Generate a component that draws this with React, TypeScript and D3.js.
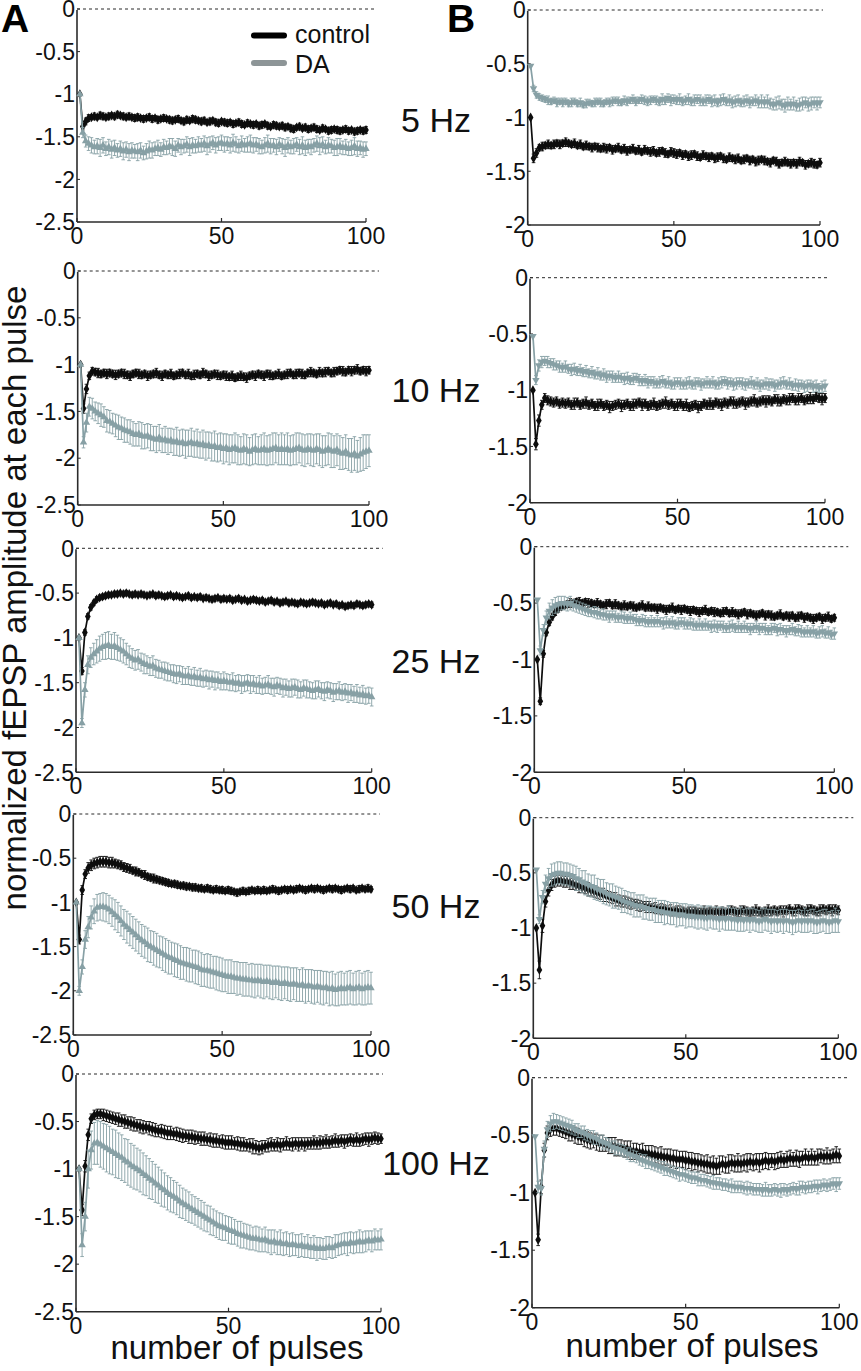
import { useEffect } from 'react';
import * as d3 from 'd3';

// pulse index (x) for every series
const pulseNumbers = d3.range(1, 101);
const xTicks = [0, 50, 100];
const yTicksA = [0, -0.5, -1, -1.5, -2, -2.5];
const yTicksB = [0, -0.5, -1, -1.5, -2];
const frequencyLabels = ['5 Hz', '10 Hz', '25 Hz', '50 Hz', '100 Hz'];

// all amplitudes / SEMs below are in hundredths of the normalized amplitude
// ---- column A, 5 Hz
const ctrlA5 = [
  -100, -138, -132, -128, -127, -126, -127, -125, -126, -127,
  -126, -125, -126, -124, -125, -126, -127, -126, -127, -128,
  -127, -128, -129, -128, -127, -129, -128, -130, -129, -128,
  -129, -130, -131, -130, -129, -131, -132, -130, -131, -129,
  -130, -131, -132, -131, -133, -132, -131, -133, -134, -132,
  -133, -134, -133, -135, -134, -133, -135, -136, -134, -135,
  -136, -135, -137, -136, -135, -137, -138, -136, -137, -138,
  -137, -139, -138, -140, -141, -139, -138, -140, -139, -141,
  -140, -139, -141, -142, -140, -141, -143, -142, -141, -142,
  -143, -142, -141, -143, -142, -144, -143, -142, -143, -142,
];
const ctrlErrA5 = [
  0, 4, 4, 4, 3, 4, 3, 4, 4, 3, 4, 3, 4, 4, 3, 4, 3, 4, 3, 4,
  4, 3, 4, 3, 4, 4, 3, 4, 3, 4, 3, 4, 4, 3, 4, 3, 4, 4, 3, 4,
  4, 3, 4, 4, 3, 4, 3, 4, 4, 3, 4, 4, 3, 4, 3, 4, 4, 3, 4, 3,
  4, 3, 4, 4, 3, 4, 3, 4, 4, 3, 4, 4, 3, 4, 4, 3, 4, 3, 4, 4,
  3, 4, 4, 3, 4, 3, 4, 4, 3, 4, 4, 3, 4, 4, 3, 4, 4, 3, 4, 4,
];
const daA5 = [
  -100, -145, -155, -158, -160, -162, -161, -163, -160, -164,
  -162, -165, -163, -166, -164, -167, -165, -168, -166, -167,
  -168, -166, -169, -167, -165, -166, -164, -163, -165, -162,
  -163, -161, -162, -164, -160, -162, -161, -159, -162, -160,
  -161, -159, -160, -158, -161, -159, -157, -160, -158, -157,
  -159, -158, -160, -157, -159, -161, -158, -160, -159, -158,
  -160, -159, -161, -162, -160, -158, -161, -160, -162, -159,
  -161, -163, -160, -162, -161, -159, -162, -160, -163, -161,
  -162, -160, -158, -161, -159, -162, -160, -161, -163, -162,
  -161, -163, -162, -164, -163, -161, -164, -163, -165, -164,
];
const daErrA5 = [
  0, 6, 7, 8, 9, 8, 9, 10, 9, 8, 9, 10, 9, 8, 9, 10, 9, 10, 9, 8,
  10, 9, 8, 9, 10, 9, 8, 9, 8, 9, 8, 9, 10, 9, 8, 9, 8, 9, 10, 9,
  8, 9, 8, 9, 10, 9, 8, 9, 8, 9, 9, 8, 9, 10, 9, 8, 9, 8, 9, 10,
  9, 8, 9, 8, 9, 10, 9, 8, 9, 8, 9, 10, 9, 8, 9, 8, 9, 10, 9, 8,
  9, 8, 9, 10, 9, 8, 9, 8, 9, 10, 9, 8, 9, 8, 9, 10, 9, 8, 9, 8,
];

// ---- column B, 5 Hz
const ctrlB5 = [
  -100, -138, -133, -128, -127, -126, -125, -126, -125, -124,
  -125, -124, -123, -124, -125, -124, -126, -125, -127, -126,
  -127, -128, -127, -128, -129, -128, -129, -128, -130, -129,
  -128, -130, -129, -131, -130, -129, -131, -130, -132, -130,
  -131, -132, -131, -133, -132, -131, -133, -134, -132, -133,
  -134, -133, -135, -134, -136, -135, -134, -136, -137, -135,
  -136, -137, -136, -138, -137, -136, -138, -139, -137, -138,
  -139, -138, -140, -139, -138, -140, -139, -141, -140, -139,
  -140, -141, -142, -140, -141, -143, -142, -141, -142, -143,
  -142, -143, -141, -142, -144, -143, -142, -143, -144, -142,
];
const ctrlErrB5 = [
  0, 4, 4, 3, 4, 3, 4, 3, 4, 3, 4, 3, 4, 3, 3, 4, 3, 4, 3, 4,
  3, 4, 3, 4, 3, 4, 4, 3, 4, 3, 4, 3, 4, 4, 3, 4, 3, 4, 3, 4,
  3, 4, 4, 3, 4, 3, 4, 3, 4, 4, 4, 3, 4, 3, 4, 4, 3, 4, 3, 4,
  3, 4, 3, 4, 4, 3, 4, 3, 4, 3, 4, 4, 3, 4, 3, 4, 3, 4, 4, 3,
  4, 3, 4, 3, 4, 4, 3, 4, 3, 4, 3, 4, 4, 3, 4, 3, 4, 4, 3, 4,
];
const daB5 = [
  -52, -73, -79, -81, -82, -83, -84, -85, -84, -86,
  -85, -86, -85, -87, -86, -85, -87, -86, -88, -87,
  -86, -87, -86, -85, -86, -87, -85, -86, -85, -84,
  -85, -86, -84, -85, -84, -83, -85, -84, -83, -84,
  -85, -84, -83, -84, -85, -83, -84, -82, -84, -83,
  -84, -83, -85, -84, -83, -85, -84, -83, -84, -85,
  -84, -83, -85, -84, -86, -84, -83, -85, -84, -86,
  -85, -84, -86, -85, -84, -86, -85, -84, -86, -85,
  -86, -85, -87, -88, -87, -86, -88, -89, -87, -88,
  -87, -89, -88, -87, -86, -88, -87, -86, -87, -86,
];
const daErrB5 = [
  0, 3, 3, 3, 3, 3, 4, 3, 3, 4, 3, 4, 3, 3, 4, 3, 3, 4, 3, 4,
  3, 3, 4, 3, 4, 3, 3, 4, 4, 3, 4, 3, 4, 4, 3, 4, 4, 3, 4, 4,
  4, 4, 3, 4, 4, 5, 4, 4, 5, 4, 4, 5, 4, 4, 5, 4, 5, 4, 5, 4,
  5, 4, 5, 5, 4, 5, 5, 4, 5, 5, 5, 5, 4, 5, 5, 5, 4, 5, 5, 6,
  5, 6, 5, 5, 6, 6, 5, 6, 6, 5, 6, 5, 6, 6, 5, 6, 6, 5, 6, 5,
];

// ---- column A, 10 Hz
const ctrlA10 = [
  -100, -147, -126, -112, -107, -108, -109, -110, -109, -110,
  -109, -110, -111, -110, -109, -110, -111, -112, -110, -109,
  -110, -111, -110, -112, -111, -110, -109, -111, -112, -110,
  -111, -110, -112, -111, -110, -109, -111, -110, -112, -111,
  -110, -111, -109, -110, -112, -111, -110, -111, -112, -111,
  -112, -113, -112, -114, -113, -112, -113, -114, -112, -111,
  -112, -110, -111, -112, -110, -111, -112, -111, -110, -112,
  -111, -110, -109, -111, -110, -109, -110, -111, -109, -108,
  -109, -110, -108, -109, -108, -107, -109, -108, -107, -106,
  -107, -108, -106, -107, -106, -105, -107, -106, -107, -106,
];
const ctrlErrA10 = [
  0, 5, 5, 4, 4, 4, 5, 4, 4, 5, 4, 4, 5, 4, 4, 5, 4, 5, 4, 4,
  5, 4, 4, 5, 4, 4, 5, 4, 5, 4, 4, 5, 4, 4, 5, 4, 4, 5, 4, 5,
  4, 4, 5, 4, 5, 4, 4, 5, 4, 4, 5, 4, 5, 4, 4, 5, 4, 5, 4, 4,
  5, 4, 4, 5, 4, 5, 4, 4, 5, 4, 4, 5, 4, 4, 5, 4, 5, 4, 4, 5,
  4, 4, 5, 4, 5, 4, 4, 5, 4, 4, 5, 4, 4, 5, 4, 5, 4, 4, 5, 4,
];
const daA10 = [
  -100, -183, -162, -145, -147, -150, -152, -154, -156, -160,
  -161, -163, -165, -167, -168, -170, -171, -172, -174, -175,
  -174, -176, -177, -176, -178, -179, -180, -178, -181, -180,
  -182, -181, -183, -182, -184, -183, -185, -184, -183, -185,
  -184, -186, -185, -187, -186, -188, -187, -189, -188, -190,
  -189, -191, -190, -189, -191, -192, -190, -191, -193, -191,
  -190, -192, -191, -190, -192, -191, -190, -189, -191, -190,
  -191, -190, -192, -191, -190, -189, -191, -192, -190, -191,
  -192, -190, -191, -193, -192, -190, -192, -193, -191, -194,
  -195, -193, -196, -197, -195, -198, -196, -194, -193, -192,
];
const daErrA10 = [
  0, 6, 10, 10, 11, 10, 11, 12, 11, 12, 12, 11, 12, 13, 12, 13, 12, 13, 13, 12,
  13, 14, 13, 13, 14, 13, 14, 14, 13, 14, 14, 13, 14, 15, 14, 14, 15, 14, 15, 14,
  15, 14, 15, 15, 14, 15, 16, 15, 15, 16, 15, 16, 15, 16, 16, 15, 16, 16, 15, 16,
  16, 15, 16, 17, 16, 16, 17, 16, 16, 17, 16, 17, 16, 16, 17, 16, 17, 17, 16, 17,
  17, 16, 17, 17, 16, 17, 18, 17, 17, 18, 17, 18, 17, 18, 18, 17, 18, 19, 18, 17,
];

// ---- column B, 10 Hz
const ctrlB10 = [
  -100, -148, -127, -113, -107, -109, -110, -111, -110, -112,
  -111, -112, -111, -113, -112, -111, -113, -112, -111, -113,
  -112, -114, -113, -112, -114, -113, -115, -114, -113, -112,
  -114, -113, -112, -114, -113, -112, -111, -113, -112, -114,
  -113, -112, -114, -113, -112, -111, -113, -112, -114, -113,
  -112, -114, -113, -115, -114, -113, -115, -114, -112, -113,
  -112, -113, -111, -112, -113, -111, -112, -110, -111, -112,
  -111, -110, -112, -111, -110, -109, -111, -110, -109, -110,
  -109, -110, -108, -109, -110, -108, -109, -108, -107, -109,
  -108, -107, -109, -108, -107, -108, -106, -107, -108, -107,
];
const ctrlErrB10 = [
  0, 5, 5, 4, 4, 4, 4, 4, 4, 4, 4, 4, 4, 4, 5, 4, 4, 4, 5, 4,
  4, 4, 5, 4, 4, 4, 5, 4, 4, 4, 5, 4, 4, 4, 5, 4, 4, 5, 4, 4,
  4, 5, 4, 4, 4, 5, 4, 4, 4, 5, 4, 4, 5, 4, 4, 4, 5, 4, 4, 4,
  5, 4, 4, 4, 5, 4, 4, 4, 5, 4, 4, 4, 5, 4, 4, 5, 4, 4, 4, 5,
  4, 4, 4, 5, 4, 4, 4, 5, 4, 4, 5, 4, 4, 4, 5, 4, 4, 4, 5, 4,
];
const daB10 = [
  -52, -91, -78, -75, -74, -75, -76, -77, -78, -79,
  -80, -79, -81, -82, -81, -83, -82, -84, -83, -85,
  -84, -86, -85, -87, -86, -88, -87, -88, -89, -88,
  -89, -90, -89, -91, -90, -89, -91, -92, -91, -93,
  -92, -93, -94, -93, -92, -94, -93, -95, -94, -93,
  -94, -95, -94, -93, -95, -94, -93, -95, -94, -93,
  -94, -93, -95, -94, -93, -92, -94, -93, -95, -94,
  -93, -94, -95, -94, -93, -95, -94, -96, -95, -94,
  -95, -94, -96, -95, -94, -93, -95, -94, -96, -95,
  -96, -95, -97, -96, -95, -97, -96, -98, -97, -96,
];
const daErrB10 = [
  0, 4, 5, 5, 4, 5, 4, 5, 4, 5, 4, 5, 4, 5, 5, 4, 5, 4, 5, 4,
  5, 4, 5, 4, 5, 5, 4, 5, 4, 5, 4, 5, 5, 4, 5, 4, 5, 4, 5, 5,
  4, 5, 4, 5, 5, 4, 5, 4, 5, 4, 5, 4, 5, 5, 4, 5, 4, 5, 4, 5,
  4, 5, 4, 5, 5, 4, 5, 4, 5, 5, 4, 5, 5, 4, 5, 4, 5, 5, 4, 5,
  5, 4, 5, 4, 5, 5, 4, 5, 4, 5, 5, 4, 5, 5, 4, 5, 5, 4, 5, 5,
];

// ---- column A, 25 Hz
const ctrlA25 = [
  -100, -137, -94, -76, -66, -61, -57, -55, -54, -53,
  -52, -52, -51, -51, -50, -51, -50, -51, -52, -51,
  -52, -51, -52, -53, -52, -51, -53, -52, -53, -54,
  -53, -52, -54, -53, -54, -55, -54, -53, -55, -54,
  -55, -54, -56, -55, -56, -57, -56, -55, -57, -56,
  -57, -56, -58, -57, -56, -58, -57, -59, -58, -57,
  -58, -59, -58, -60, -59, -58, -60, -59, -61, -60,
  -59, -61, -60, -61, -62, -60, -61, -62, -61, -60,
  -61, -62, -61, -63, -62, -61, -63, -62, -64, -63,
  -65, -64, -63, -64, -62, -63, -64, -63, -62, -63,
];
const ctrlErrA25 = [
  0, 4, 3, 3, 3, 3, 3, 3, 3, 3, 3, 2, 3, 3, 2, 3, 3, 2, 3, 3,
  2, 3, 3, 2, 3, 2, 3, 3, 2, 3, 3, 2, 3, 3, 2, 3, 2, 3, 3, 2,
  3, 3, 2, 3, 2, 3, 3, 2, 3, 3, 2, 3, 3, 2, 3, 3, 2, 3, 2, 3,
  3, 2, 3, 3, 2, 3, 3, 2, 3, 3, 2, 3, 2, 3, 3, 2, 3, 3, 2, 3,
  3, 2, 3, 3, 2, 3, 2, 3, 3, 2, 3, 3, 2, 3, 3, 2, 3, 3, 2, 3,
];
const daA25 = [
  -100, -195, -158, -130, -122, -118, -115, -112, -110, -109,
  -108, -110, -109, -111, -113, -115, -118, -121, -123, -125,
  -124, -127, -129, -130, -132, -131, -134, -135, -136, -137,
  -138, -139, -140, -141, -140, -142, -143, -142, -144, -143,
  -145, -144, -146, -145, -147, -146, -148, -147, -149, -148,
  -149, -150, -149, -151, -150, -152, -151, -150, -152, -151,
  -153, -152, -154, -153, -152, -154, -155, -153, -154, -156,
  -155, -157, -156, -155, -157, -158, -156, -157, -158, -159,
  -158, -157, -159, -160, -158, -159, -161, -160, -159, -161,
  -160, -162, -161, -163, -162, -164, -163, -165, -164, -166,
];
const daErrA25 = [
  0, 5, 8, 10, 11, 12, 13, 14, 14, 15, 15, 14, 15, 14, 13, 13, 12, 12, 11, 11,
  11, 10, 11, 10, 10, 11, 10, 10, 9, 10, 10, 9, 10, 10, 9, 10, 9, 10, 9, 10,
  9, 10, 9, 9, 10, 9, 10, 9, 9, 10, 9, 9, 10, 9, 9, 10, 9, 9, 10, 9,
  9, 10, 9, 9, 10, 9, 10, 9, 9, 10, 9, 9, 10, 9, 10, 9, 9, 10, 9, 9,
  10, 9, 9, 10, 9, 9, 10, 9, 10, 9, 9, 10, 9, 9, 10, 9, 10, 9, 9, 10,
];

// ---- column B, 25 Hz
const ctrlB25 = [
  -100, -137, -95, -76, -67, -62, -58, -55, -53, -52,
  -51, -50, -50, -49, -49, -50, -49, -50, -50, -51,
  -50, -51, -52, -51, -50, -52, -51, -52, -53, -52,
  -53, -52, -53, -54, -53, -52, -54, -53, -54, -54,
  -55, -54, -55, -56, -55, -54, -56, -55, -56, -55,
  -56, -57, -56, -57, -58, -57, -56, -58, -57, -58,
  -58, -59, -58, -57, -59, -58, -59, -60, -59, -58,
  -60, -59, -60, -61, -60, -59, -61, -60, -61, -62,
  -61, -60, -62, -61, -62, -61, -63, -62, -61, -63,
  -62, -63, -64, -63, -62, -64, -63, -62, -64, -63,
];
const ctrlErrB25 = [
  0, 3, 3, 3, 3, 3, 3, 3, 3, 3, 3, 4, 3, 3, 4, 3, 3, 4, 3, 3,
  4, 3, 3, 4, 3, 3, 4, 3, 3, 4, 3, 3, 4, 3, 3, 4, 3, 4, 3, 3,
  4, 3, 3, 4, 3, 4, 3, 3, 4, 3, 3, 4, 3, 3, 4, 3, 4, 3, 3, 4,
  3, 3, 4, 3, 3, 4, 3, 4, 3, 3, 4, 3, 3, 4, 3, 3, 4, 3, 4, 3,
  3, 4, 3, 3, 4, 3, 3, 4, 3, 4, 3, 3, 4, 3, 3, 4, 3, 4, 3, 3,
];
const daB25 = [
  -47, -92, -74, -63, -57, -54, -52, -51, -50, -50,
  -51, -50, -52, -53, -54, -55, -56, -57, -58, -58,
  -59, -60, -60, -61, -62, -61, -62, -63, -62, -63,
  -64, -63, -64, -65, -66, -65, -66, -67, -66, -67,
  -66, -67, -68, -67, -68, -67, -69, -68, -67, -68,
  -69, -68, -69, -70, -69, -70, -69, -70, -71, -70,
  -71, -70, -71, -72, -71, -70, -72, -71, -72, -71,
  -72, -73, -72, -71, -73, -72, -73, -74, -73, -72,
  -74, -73, -74, -75, -74, -73, -75, -74, -75, -76,
  -75, -76, -75, -77, -76, -75, -77, -76, -78, -77,
];
const daErrB25 = [
  0, 4, 5, 6, 7, 7, 7, 7, 6, 6, 6, 6, 5, 5, 5, 5, 5, 5, 4, 5,
  5, 4, 5, 4, 5, 4, 5, 4, 5, 5, 4, 5, 4, 5, 4, 5, 5, 4, 5, 4,
  5, 4, 5, 5, 4, 5, 4, 5, 4, 5, 4, 5, 5, 4, 5, 4, 5, 4, 5, 5,
  5, 4, 5, 4, 5, 5, 4, 5, 4, 5, 4, 5, 4, 5, 5, 4, 5, 4, 5, 4,
  5, 5, 4, 5, 4, 5, 4, 5, 5, 4, 5, 4, 5, 4, 5, 5, 4, 5, 4, 5,
];

// ---- column A, 50 Hz
const ctrlA50 = [
  -100, -142, -86, -68, -61, -58, -56, -55, -54, -54,
  -54, -55, -55, -56, -57, -58, -60, -61, -62, -64,
  -65, -66, -68, -69, -71, -72, -73, -74, -75, -76,
  -77, -78, -79, -79, -80, -81, -81, -82, -82, -83,
  -83, -84, -84, -85, -84, -85, -86, -85, -86, -86,
  -87, -86, -87, -88, -89, -88, -87, -88, -87, -86,
  -87, -86, -87, -86, -87, -86, -85, -86, -87, -86,
  -85, -86, -85, -86, -85, -84, -85, -86, -85, -84,
  -85, -84, -85, -86, -85, -84, -85, -84, -85, -86,
  -85, -84, -85, -84, -86, -85, -84, -85, -84, -85,
];
const ctrlErrA50 = [
  0, 5, 5, 5, 6, 6, 6, 6, 6, 6, 6, 6, 6, 5, 5, 5, 5, 5, 5, 4,
  5, 4, 4, 5, 4, 4, 5, 4, 4, 4, 4, 4, 3, 4, 4, 3, 4, 4, 3, 4,
  4, 3, 4, 3, 4, 4, 3, 4, 3, 4, 3, 4, 4, 3, 4, 3, 4, 3, 4, 3,
  3, 4, 3, 4, 3, 3, 4, 3, 4, 3, 3, 4, 3, 3, 4, 3, 3, 4, 3, 3,
  4, 3, 3, 4, 3, 3, 4, 3, 3, 4, 3, 3, 4, 3, 3, 4, 3, 3, 4, 3,
];
const daA50 = [
  -100, -200, -173, -142, -128, -117, -110, -106, -105, -105,
  -106, -108, -111, -114, -117, -121, -125, -128, -131, -134,
  -137, -140, -143, -145, -148, -150, -152, -154, -156, -158,
  -160, -162, -163, -165, -166, -168, -169, -170, -171, -172,
  -173, -174, -176, -177, -177, -178, -179, -180, -181, -182,
  -183, -184, -184, -185, -186, -186, -187, -187, -188, -188,
  -189, -188, -189, -190, -189, -190, -191, -190, -191, -192,
  -191, -192, -193, -192, -193, -194, -193, -195, -194, -195,
  -196, -195, -196, -197, -196, -198, -197, -199, -198, -197,
  -198, -197, -196, -198, -197, -196, -198, -197, -196, -197,
];
const daErrA50 = [
  0, 5, 8, 10, 12, 13, 14, 15, 15, 16, 16, 16, 16, 17, 17, 17, 17, 18, 18, 18,
  18, 18, 18, 18, 19, 18, 19, 19, 18, 19, 19, 19, 18, 19, 19, 19, 18, 19, 19, 18,
  19, 19, 19, 18, 19, 19, 18, 19, 19, 19, 18, 19, 19, 18, 19, 18, 19, 19, 18, 19,
  19, 18, 19, 19, 18, 19, 19, 18, 19, 19, 18, 19, 19, 18, 19, 18, 19, 19, 18, 19,
  19, 18, 19, 19, 18, 19, 19, 18, 19, 19, 18, 19, 19, 18, 19, 19, 18, 19, 19, 18,
];

// ---- column B, 50 Hz
const ctrlB50 = [
  -100, -138, -98, -76, -66, -61, -58, -57, -57, -58,
  -58, -59, -60, -61, -62, -63, -64, -65, -66, -67,
  -68, -69, -70, -71, -72, -73, -74, -75, -76, -76,
  -77, -78, -78, -79, -80, -80, -81, -81, -82, -82,
  -83, -83, -83, -84, -84, -85, -84, -85, -85, -86,
  -85, -86, -85, -86, -86, -85, -86, -85, -86, -85,
  -86, -85, -86, -85, -84, -85, -86, -85, -84, -85,
  -86, -85, -84, -85, -86, -85, -84, -85, -84, -85,
  -84, -85, -84, -83, -85, -84, -83, -84, -85, -84,
  -83, -84, -85, -84, -83, -84, -83, -84, -83, -84,
];
const ctrlErrB50 = [
  0, 8, 6, 5, 5, 5, 5, 5, 5, 5, 5, 6, 5, 5, 6, 5, 5, 6, 5, 5,
  5, 5, 6, 5, 5, 5, 6, 5, 5, 5, 5, 5, 4, 5, 5, 4, 5, 5, 4, 5,
  4, 5, 4, 4, 5, 4, 4, 5, 4, 4, 4, 5, 4, 4, 4, 5, 4, 4, 4, 5,
  4, 4, 4, 5, 4, 4, 4, 5, 4, 4, 4, 4, 5, 4, 4, 4, 5, 4, 4, 4,
  4, 5, 4, 4, 4, 5, 4, 4, 4, 5, 4, 4, 4, 5, 4, 4, 4, 5, 4, 4,
];
const daB50 = [
  -47, -92, -72, -60, -55, -52, -51, -50, -50, -51,
  -51, -52, -53, -55, -56, -58, -59, -61, -62, -63,
  -65, -66, -67, -69, -70, -71, -72, -73, -75, -76,
  -77, -78, -79, -80, -80, -81, -82, -83, -83, -84,
  -85, -85, -86, -86, -87, -87, -88, -88, -88, -89,
  -89, -89, -90, -90, -90, -91, -91, -90, -91, -91,
  -92, -91, -92, -91, -92, -92, -93, -92, -93, -92,
  -93, -92, -93, -94, -93, -92, -93, -94, -93, -94,
  -93, -94, -93, -94, -95, -94, -93, -94, -93, -94,
  -93, -94, -95, -94, -93, -94, -95, -94, -93, -94,
];
const daErrB50 = [
  0, 4, 6, 8, 9, 10, 10, 10, 10, 10, 10, 10, 10, 11, 10, 10, 11, 10, 10, 11,
  10, 10, 11, 10, 10, 11, 10, 10, 11, 10, 10, 10, 11, 10, 10, 11, 10, 10, 10, 11,
  10, 10, 11, 10, 10, 10, 11, 10, 10, 11, 10, 10, 10, 11, 10, 10, 11, 10, 10, 10,
  11, 10, 10, 11, 10, 10, 10, 11, 10, 10, 11, 10, 10, 10, 11, 10, 10, 11, 10, 10,
  10, 11, 10, 10, 11, 10, 10, 10, 11, 10, 10, 11, 10, 10, 10, 11, 10, 10, 11, 10,
];

// ---- column A, 100 Hz
const ctrlA100 = [
  -100, -143, -97, -64, -47, -43, -42, -42, -43, -44,
  -45, -46, -47, -48, -49, -50, -51, -52, -53, -54,
  -55, -56, -56, -57, -58, -59, -60, -60, -61, -62,
  -62, -63, -63, -64, -65, -65, -66, -66, -67, -67,
  -68, -68, -69, -69, -70, -70, -71, -71, -72, -72,
  -72, -73, -73, -74, -74, -75, -75, -76, -77, -78,
  -77, -76, -75, -74, -75, -74, -75, -74, -73, -74,
  -74, -73, -74, -73, -74, -73, -73, -72, -73, -72,
  -72, -71, -72, -71, -70, -71, -70, -71, -70, -69,
  -70, -69, -70, -69, -68, -69, -68, -67, -68, -68,
];
const ctrlErrA100 = [
  0, 6, 6, 6, 5, 5, 5, 5, 6, 6, 6, 6, 6, 7, 6, 7, 6, 7, 7, 6,
  7, 7, 6, 7, 7, 7, 6, 7, 7, 7, 7, 6, 7, 7, 7, 6, 7, 7, 7, 6,
  7, 7, 6, 7, 7, 7, 6, 7, 7, 7, 7, 6, 7, 7, 7, 6, 7, 8, 7, 7,
  7, 6, 7, 7, 6, 7, 7, 6, 7, 6, 7, 6, 7, 6, 7, 6, 6, 7, 6, 7,
  6, 7, 6, 6, 7, 6, 6, 7, 6, 6, 6, 7, 6, 6, 6, 7, 6, 6, 6, 5,
];
const daA100 = [
  -100, -180, -150, -100, -80, -73, -72, -74, -76, -78,
  -80, -82, -84, -86, -88, -91, -93, -96, -98, -100,
  -102, -105, -107, -110, -112, -115, -117, -120, -122, -125,
  -127, -129, -131, -134, -136, -138, -140, -142, -144, -146,
  -148, -150, -152, -154, -156, -158, -160, -161, -162, -164,
  -165, -166, -168, -169, -170, -171, -172, -173, -173, -174,
  -175, -174, -176, -177, -176, -178, -177, -179, -178, -180,
  -179, -180, -181, -180, -182, -181, -183, -182, -184, -183,
  -184, -183, -182, -183, -181, -180, -179, -178, -179, -177,
  -178, -177, -176, -177, -176, -175, -176, -174, -175, -174,
];
const daErrA100 = [
  0, 12, 15, 20, 20, 22, 23, 24, 24, 25, 25, 24, 25, 24, 24, 23, 24, 23, 23, 22,
  22, 22, 21, 21, 20, 20, 19, 19, 18, 18, 18, 17, 17, 17, 16, 16, 16, 15, 15, 15,
  15, 15, 14, 15, 14, 14, 14, 14, 13, 14, 14, 13, 13, 14, 13, 13, 13, 12, 13, 13,
  12, 13, 12, 13, 12, 12, 13, 12, 12, 12, 12, 11, 12, 12, 11, 12, 11, 12, 12, 11,
  11, 12, 11, 11, 12, 11, 11, 11, 12, 11, 11, 11, 12, 11, 11, 10, 11, 11, 10, 11,
];

// ---- column B, 100 Hz
const ctrlB100 = [
  -100, -141, -95, -63, -48, -45, -44, -44, -45, -46,
  -47, -48, -49, -50, -51, -52, -53, -54, -55, -55,
  -56, -57, -57, -58, -59, -59, -60, -61, -61, -62,
  -62, -63, -64, -64, -65, -65, -66, -66, -67, -67,
  -68, -68, -69, -69, -70, -70, -71, -71, -71, -72,
  -72, -73, -73, -74, -74, -75, -75, -76, -76, -77,
  -76, -75, -76, -75, -74, -75, -74, -75, -74, -74,
  -73, -74, -73, -74, -73, -72, -73, -72, -73, -72,
  -71, -72, -71, -70, -71, -70, -71, -70, -69, -70,
  -69, -70, -69, -68, -69, -68, -69, -68, -67, -68,
];
const ctrlErrB100 = [
  0, 5, 6, 6, 6, 6, 6, 6, 6, 6, 6, 7, 6, 7, 7, 6, 7, 7, 7, 6,
  7, 7, 7, 6, 7, 7, 8, 7, 7, 7, 7, 8, 7, 7, 7, 8, 7, 7, 8, 7,
  7, 8, 7, 7, 8, 7, 8, 7, 7, 8, 7, 8, 7, 8, 7, 7, 8, 7, 8, 7,
  8, 7, 7, 8, 7, 7, 8, 7, 7, 8, 7, 7, 7, 8, 7, 7, 7, 6, 7, 7,
  7, 6, 7, 7, 6, 7, 7, 6, 7, 6, 7, 6, 7, 6, 6, 7, 6, 6, 7, 6,
];
const daB100 = [
  -51, -95, -96, -62, -45, -40, -38, -38, -39, -40,
  -41, -42, -43, -45, -46, -47, -48, -50, -51, -52,
  -53, -55, -56, -57, -58, -60, -61, -62, -63, -64,
  -66, -67, -68, -69, -71, -72, -73, -74, -75, -76,
  -77, -78, -79, -80, -81, -82, -83, -84, -84, -85,
  -86, -87, -87, -88, -89, -89, -90, -91, -91, -92,
  -92, -93, -93, -94, -94, -95, -95, -95, -96, -96,
  -96, -97, -97, -97, -98, -97, -98, -98, -97, -98,
  -98, -97, -98, -97, -96, -97, -96, -95, -96, -95,
  -95, -94, -95, -94, -93, -94, -93, -92, -93, -92,
];
const daErrB100 = [
  0, 5, 6, 7, 7, 7, 7, 6, 6, 6, 6, 6, 6, 5, 6, 5, 6, 5, 5, 6,
  5, 5, 6, 5, 5, 5, 6, 5, 5, 5, 5, 6, 5, 5, 5, 5, 6, 5, 5, 5,
  5, 5, 6, 5, 5, 5, 5, 6, 5, 5, 5, 5, 5, 6, 5, 5, 5, 5, 6, 5,
  5, 5, 5, 5, 6, 5, 5, 5, 5, 6, 5, 5, 5, 5, 5, 6, 5, 5, 5, 5,
  6, 5, 5, 5, 5, 5, 6, 5, 5, 5, 5, 5, 6, 5, 5, 5, 5, 5, 6, 5,
];

const columnA = [
  { ctrl: ctrlA5, ctrlErr: ctrlErrA5, da: daA5, daErr: daErrA5 },
  { ctrl: ctrlA10, ctrlErr: ctrlErrA10, da: daA10, daErr: daErrA10 },
  { ctrl: ctrlA25, ctrlErr: ctrlErrA25, da: daA25, daErr: daErrA25 },
  { ctrl: ctrlA50, ctrlErr: ctrlErrA50, da: daA50, daErr: daErrA50 },
  { ctrl: ctrlA100, ctrlErr: ctrlErrA100, da: daA100, daErr: daErrA100 },
];
const columnB = [
  { ctrl: ctrlB5, ctrlErr: ctrlErrB5, da: daB5, daErr: daErrB5 },
  { ctrl: ctrlB10, ctrlErr: ctrlErrB10, da: daB10, daErr: daErrB10 },
  { ctrl: ctrlB25, ctrlErr: ctrlErrB25, da: daB25, daErr: daErrB25 },
  { ctrl: ctrlB50, ctrlErr: ctrlErrB50, da: daB50, daErr: daErrB50 },
  { ctrl: ctrlB100, ctrlErr: ctrlErrB100, da: daB100, daErr: daErrB100 },
];

// panel frames measured on the figure: [x at 0, x at 100, y at 0, y at bottom, dashed overhang]
const framesA = [
  [77, 366, 9, 222, 10],
  [77.7, 369, 271, 505, 10],
  [76, 371.7, 548.3, 772.3, 11],
  [73.3, 371, 814, 1035, 9],
  [76, 381, 1074, 1311.7, 2],
];
const framesB = [
  [527.7, 820, 10, 225, 3],
  [530, 825, 277.7, 502.7, 3],
  [534.3, 834.3, 546.7, 772.3, 14],
  [533.3, 838.3, 817.7, 1038.3, 15],
  [532, 839.3, 1077.7, 1307.7, 8],
];
const hzLabelY = [132, 402, 673, 918, 1175];

const FONT = '"Liberation Sans", Arial, Helvetica, sans-serif';
const CTRL_COLOR = '#0d0d0d';
const DA_COLOR = '#87a0a5';
const AXIS_COLOR = '#2b2b2b';

interface SeriesProps {
  values: number[];
  errors: number[];
  x: d3.ScaleLinear<number, number>;
  y: d3.ScaleLinear<number, number>;
  color: string;
  marker: 'diamond' | 'triUp' | 'triDown';
}

function Series({ values, errors, x, y, color, marker }: SeriesProps) {
  const line = d3.line<number>().x((_, i) => x(pulseNumbers[i])).y((v) => y(v / 100));
  const symbolPath =
    marker === 'diamond'
      ? d3.symbol(d3.symbolDiamond, 28)()
      : d3.symbol(d3.symbolTriangle, 24)();
  const rot = marker === 'triDown' ? 180 : 0;
  return (
    <g>
      {values.map((v, i) => {
        const cx = x(pulseNumbers[i]);
        const e = errors[i] ?? 0;
        if (!e) return null;
        const top = y((v + e) / 100);
        const bottom = y((v - e) / 100);
        return (
          <path
            key={i}
            d={`M${cx},${top}V${bottom}M${cx - 1.8},${top}H${cx + 1.8}M${cx - 1.8},${bottom}H${cx + 1.8}`}
            stroke={color}
            strokeWidth={0.9}
            fill="none"
          />
        );
      })}
      <path d={line(values) ?? ''} stroke={color} strokeWidth={1.7} fill="none" />
      {values.map((v, i) => (
        <path
          key={i}
          d={symbolPath ?? ''}
          transform={`translate(${x(pulseNumbers[i])},${y(v / 100)}) rotate(${rot})`}
          fill={color}
        />
      ))}
    </g>
  );
}

interface PanelProps {
  frame: number[];
  ticks: number[];
  data: { ctrl: number[]; ctrlErr: number[]; da: number[]; daErr: number[] };
  daMarker: 'triUp' | 'triDown';
}

function Panel({ frame, ticks, data, daMarker }: PanelProps) {
  const [x0, x1, y0, y1, overhang] = frame;
  const yMin = ticks[ticks.length - 1];
  const x = d3.scaleLinear().domain([0, 100]).range([x0, x1]);
  const y = d3.scaleLinear().domain([0, yMin]).range([y0, y1]);
  return (
    <g>
      <line x1={x0} x2={x1 + overhang} y1={y(0)} y2={y(0)} stroke={AXIS_COLOR} strokeWidth={1} strokeDasharray="3,3" />
      <line x1={x0} x2={x0} y1={y(0) + 1} y2={y1} stroke={AXIS_COLOR} strokeWidth={1.6} />
      <line x1={x0} x2={x1} y1={y1} y2={y1} stroke={AXIS_COLOR} strokeWidth={1.6} />
      {xTicks.map((t) => (
        <g key={t}>
          <line x1={x(t)} x2={x(t)} y1={y1} y2={y1 - 4} stroke={AXIS_COLOR} strokeWidth={1.2} />
          <text x={x(t)} y={y1 + 22} textAnchor="middle" fontSize={23} fontFamily={FONT} fill="#111">
            {t}
          </text>
        </g>
      ))}
      {ticks.map((t) => (
        <g key={t}>
          <line x1={x0} x2={x0 + 3} y1={y(t)} y2={y(t)} stroke={AXIS_COLOR} strokeWidth={1} />
          <text x={x0 - 2} y={y(t)} dy="0.36em" textAnchor="end" fontSize={23} fontFamily={FONT} fill="#111">
            {t === 0 ? '0' : String(t)}
          </text>
        </g>
      ))}
      <Series values={data.ctrl} errors={data.ctrlErr} x={x} y={y} color={CTRL_COLOR} marker="diamond" />
      <Series values={data.da} errors={data.daErr} x={x} y={y} color={DA_COLOR} marker={daMarker} />
    </g>
  );
}

export default function App() {
  useEffect(() => {
    document.body.style.margin = '0';
  }, []);

  return (
    <svg width={861} height={1371} viewBox="0 0 861 1371" style={{ display: 'block', background: '#fff' }}>
      <rect width={861} height={1371} fill="#fff" />
      {columnA.map((d, i) => (
        <Panel key={`a${i}`} frame={framesA[i]} ticks={yTicksA} data={d} daMarker="triUp" />
      ))}
      {columnB.map((d, i) => (
        <Panel key={`b${i}`} frame={framesB[i]} ticks={yTicksB} data={d} daMarker="triDown" />
      ))}
      {frequencyLabels.map((label, i) => (
        <text key={label} x={436} y={hzLabelY[i]} textAnchor="middle" fontSize={34} fontFamily={FONT} fill="#111">
          {label}
        </text>
      ))}
      <text x={1} y={32} fontSize={39} fontWeight="bold" fontFamily={FONT} fill="#000">A</text>
      <text x={447} y={32} fontSize={39} fontWeight="bold" fontFamily={FONT} fill="#000">B</text>
      <line x1={254} x2={284} y1={35.5} y2={35.5} stroke="#000" strokeWidth={6} strokeLinecap="round" />
      <text x={295} y={43} fontSize={25} fontFamily={FONT} fill="#111">control</text>
      <line x1={254} x2={284} y1={63} y2={63} stroke="#8d9597" strokeWidth={6} strokeLinecap="round" />
      <text x={295} y={73} fontSize={25} fontFamily={FONT} fill="#111">DA</text>
      <text
        transform="translate(26,598) rotate(-90)"
        textAnchor="middle"
        fontSize={33}
        fontFamily={FONT}
        fill="#111"
      >
        normalized fEPSP amplitude at each pulse
      </text>
      <text x={237} y={1359} textAnchor="middle" fontSize={33} fontFamily={FONT} fill="#111">number of pulses</text>
      <text x={692} y={1357} textAnchor="middle" fontSize={33} fontFamily={FONT} fill="#111">number of pulses</text>
    </svg>
  );
}
